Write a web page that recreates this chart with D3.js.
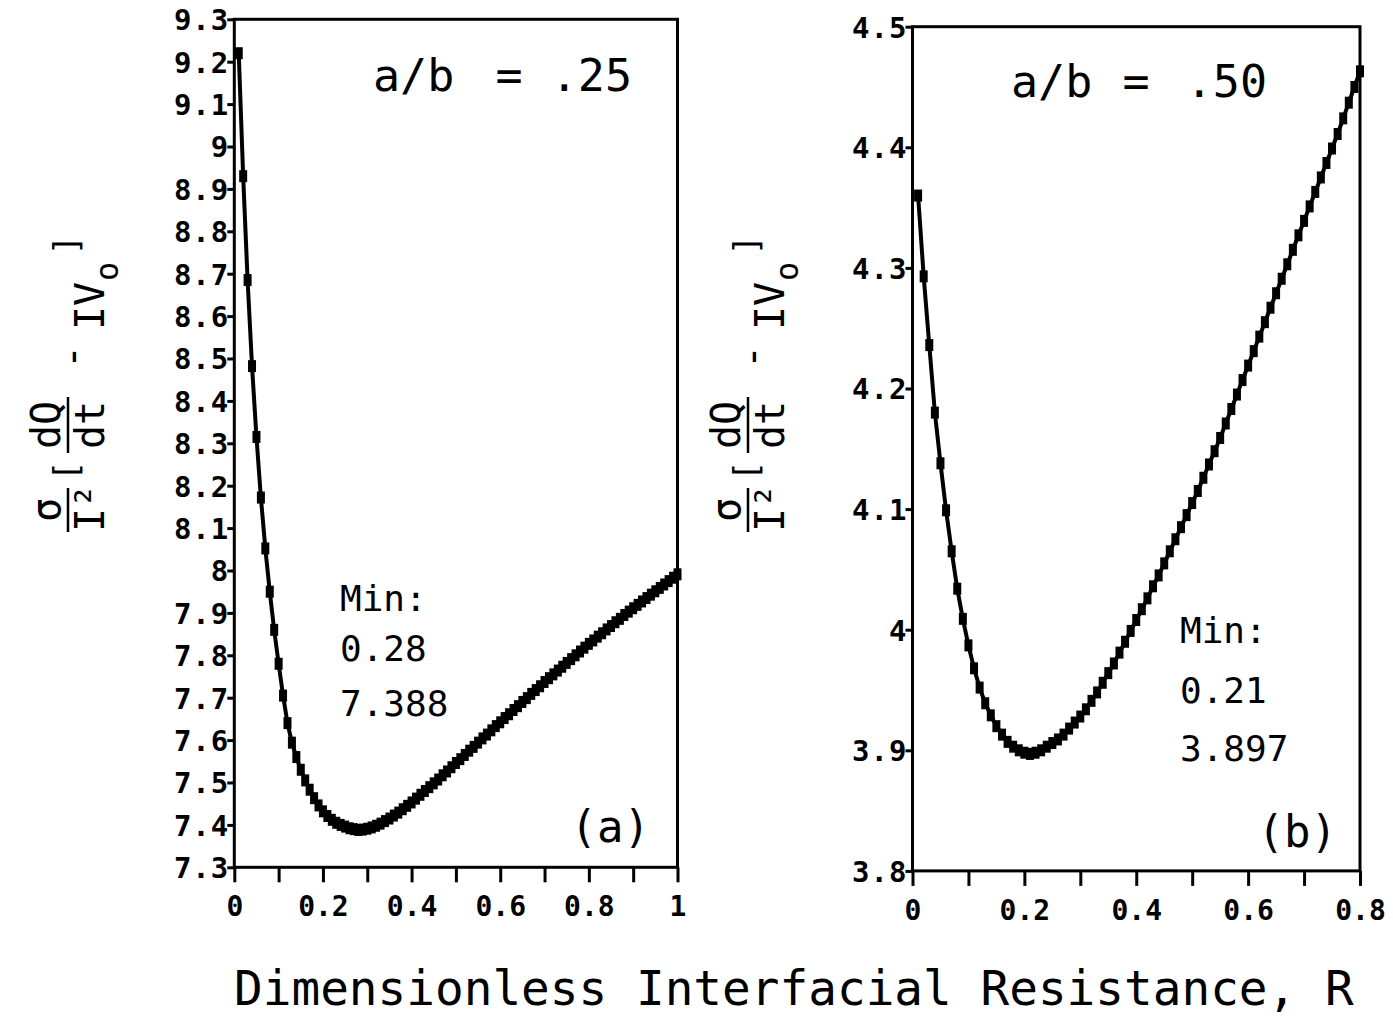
<!DOCTYPE html>
<html>
<head>
<meta charset="utf-8">
<script src="https://cdn.jsdelivr.net/npm/d3@7"></script>
<style>
  html, body { margin: 0; padding: 0; background: #fff; }
  svg { display: block; }
  text { font-family: "DejaVu Sans Mono", "Liberation Mono", monospace; fill: #000; }
</style>
</head>
<body>
<svg id="chart" width="1393" height="1019"></svg>
<script>
// ---------------- DATA ----------------
// Panel (a): a/b = .25, R from 0.01 to 1.00 step 0.01
const rA = d3.range(1, 101).map(i => i / 100);
const valuesA = [
  9.220, 8.930, 8.685, 8.482, 8.315, 8.172, 8.052, 7.950, 7.860, 7.780,
  7.705, 7.640, 7.594, 7.560, 7.530, 7.505, 7.483, 7.463, 7.446, 7.432,
  7.421, 7.412, 7.405, 7.400, 7.396, 7.392, 7.390, 7.388, 7.389, 7.391,
  7.394, 7.398, 7.403, 7.409, 7.415, 7.422, 7.429, 7.437, 7.445, 7.453,
  7.462, 7.471, 7.480, 7.489, 7.498, 7.507, 7.517, 7.526, 7.536, 7.546,
  7.555, 7.565, 7.575, 7.584, 7.594, 7.604, 7.613, 7.623, 7.633, 7.642,
  7.652, 7.661, 7.671, 7.680, 7.690, 7.699, 7.709, 7.718, 7.727, 7.737,
  7.746, 7.755, 7.764, 7.773, 7.782, 7.791, 7.800, 7.809, 7.818, 7.827,
  7.835, 7.844, 7.852, 7.861, 7.869, 7.878, 7.886, 7.895, 7.903, 7.911,
  7.919, 7.927, 7.935, 7.943, 7.951, 7.959, 7.967, 7.975, 7.983, 7.991
];
// Panel (b): a/b = .50, R from 0.01 to 0.80 step 0.01
const rB = d3.range(1, 81).map(i => i / 100);
const valuesB = [
  4.360, 4.293, 4.236, 4.180, 4.138, 4.099, 4.065, 4.034, 4.009, 3.987,
  3.968, 3.952, 3.939, 3.929, 3.920, 3.913, 3.907, 3.903, 3.900, 3.898,
  3.897, 3.898, 3.900, 3.903, 3.906, 3.909, 3.913, 3.918, 3.923, 3.928,
  3.934, 3.941, 3.948, 3.956, 3.964, 3.972, 3.981, 3.990, 3.999, 4.008,
  4.017, 4.026, 4.036, 4.045, 4.055, 4.065, 4.075, 4.085, 4.095, 4.105,
  4.115, 4.126, 4.137, 4.148, 4.159, 4.171, 4.183, 4.195, 4.207, 4.219,
  4.231, 4.243, 4.255, 4.267, 4.279, 4.291, 4.303, 4.315, 4.327, 4.339,
  4.351, 4.363, 4.375, 4.387, 4.399, 4.411, 4.424, 4.437, 4.450, 4.463
];
// Tick labels
const yTicksA = ["9.3","9.2","9.1","9","8.9","8.8","8.7","8.6","8.5","8.4","8.3","8.2","8.1","8","7.9","7.8","7.7","7.6","7.5","7.4","7.3"];
const yTicksB = ["4.5","4.4","4.3","4.2","4.1","4","3.9","3.8"];
const xTicksA = ["0","0.1","0.2","0.3","0.4","0.5","0.6","0.7","0.8","0.9","1"];
const xTicksB = ["0","0.1","0.2","0.3","0.4","0.5","0.6","0.7","0.8"];
const xLabelsA = ["0","0.2","0.4","0.6","0.8","1"];
const xLabelsB = ["0","0.2","0.4","0.6","0.8"];
// Annotations
const titleA = ["a/b", "=", ".25"];
const titleB = ["a/b", "=", ".50"];
const minA = ["Min:", "0.28", "7.388"];
const minB = ["Min:", "0.21", "3.897"];
const panelA = "(a)";
const panelB = "(b)";
const xTitle = "Dimensionless Interfacial Resistance, R";

// ---------------- DRAW ----------------
const svg = d3.select("#chart");
svg.append("rect").attr("width", 1393).attr("height", 1019).attr("fill", "#fff");

function panel(cfg) {
  const x = d3.scaleLinear().domain(cfg.xDomain).range([cfg.x0, cfg.x1]);
  const y = d3.scaleLinear().domain(cfg.yDomain).range([cfg.yBot, cfg.yTop]);
  const g = svg.append("g");

  // Y axis
  const yAxis = d3.axisLeft(y)
    .tickValues(cfg.yTicks.map(Number))
    .tickFormat((d, i) => cfg.yTicks[i])
    .tickSize(7).tickSizeOuter(0).tickPadding(3);
  const ya = g.append("g").attr("transform", `translate(${cfg.x0},0)`).call(yAxis);
  ya.select(".domain").remove();
  ya.selectAll(".tick line").attr("stroke", "#000").attr("stroke-width", 3);
  ya.selectAll(".tick text")
    .style("font-family", '"DejaVu Sans Mono", monospace')
    .style("font-weight", "bold").style("font-size", "29px")
    .style("letter-spacing", "1px")
    .attr("dy", "0.36em").attr("x", -5);

  // X axis
  const xAxis = d3.axisBottom(x)
    .tickValues(cfg.xTicks.map(Number))
    .tickFormat((d, i) => cfg.xLabels.includes(cfg.xTicks[i]) ? cfg.xTicks[i] : "")
    .tickSize(15).tickSizeOuter(0).tickPadding(14);
  const xa = g.append("g").attr("transform", `translate(0,${cfg.yBot})`).call(xAxis);
  xa.select(".domain").remove();
  xa.selectAll(".tick line").attr("stroke", "#000").attr("stroke-width", 3);
  xa.selectAll(".tick text")
    .style("font-family", '"DejaVu Sans Mono", monospace')
    .style("font-weight", "bold").style("font-size", "28px");

  // Frame
  g.append("rect")
    .attr("x", cfg.x0).attr("y", cfg.yTop)
    .attr("width", cfg.x1 - cfg.x0).attr("height", cfg.yBot - cfg.yTop)
    .attr("fill", "none").attr("stroke", "#000").attr("stroke-width", 3);

  // Curve
  const pts = cfg.r.map((r, i) => [r, cfg.v[i]]);
  g.append("path").datum(pts)
    .attr("fill", "none").attr("stroke", "#000").attr("stroke-width", 4)
    .attr("d", d3.line().x(d => x(d[0])).y(d => y(d[1])));
  g.selectAll("rect.mk").data(pts).join("rect").attr("class", "mk")
    .attr("x", d => x(d[0]) - 4).attr("y", d => y(d[1]) - 6)
    .attr("width", 8).attr("height", 12).attr("fill", "#000");

  // Title a/b = ...
  const t = g.append("g").style("font-size", "45px");
  t.append("text").attr("x", cfg.tx[0]).attr("y", cfg.ty).text(cfg.title[0]);
  t.append("text").attr("x", cfg.tx[1]).attr("y", cfg.ty).attr("text-anchor", "middle").text(cfg.title[1]);
  t.append("text").attr("x", cfg.tx[2]).attr("y", cfg.ty).attr("text-anchor", "end").text(cfg.title[2]);

  // Min annotation
  g.selectAll("text.mn").data(cfg.min).join("text").attr("class", "mn")
    .attr("x", cfg.mx).attr("y", (d, i) => cfg.my[i])
    .style("font-size", "36px").text(d => d);

  // Panel letter
  g.append("text").attr("x", cfg.px).attr("y", cfg.py).attr("text-anchor", "end")
    .style("font-size", "44px").text(cfg.letter);

  // Y label (rotated formula)
  yLabel(cfg.lx, cfg.ly);
}

function yLabel(cx, cy) {
  const g = svg.append("g").attr("transform", `translate(${cx},${cy}) rotate(-90)`);
  const fs = 40;
  const txt = (s, x, y, size, anchor) => g.append("text").attr("x", x).attr("y", y)
    .attr("text-anchor", anchor || "middle").style("font-size", size + "px").text(s);
  // sigma / I^2
  txt("σ", -125, -8, fs);
  g.append("line").attr("x1", -147).attr("x2", -103).attr("y1", 0).attr("y2", 0)
    .attr("stroke", "#000").attr("stroke-width", 2.5);
  txt("I²", -123, 36, fs);
  // [
  txt("[", -86, 10, 34);
  // dQ / dt
  txt("dQ", -40, -8, fs);
  g.append("line").attr("x1", -68).attr("x2", -12).attr("y1", 0).attr("y2", 0)
    .attr("stroke", "#000").attr("stroke-width", 2.5);
  txt("dt", -40, 36, fs);
  // - I V_o ]
  txt("-", 28, 18, fs);
  txt("IV", 55, 36, fs, "start");
  txt("o", 104, 50, 32, "start");
  txt("]", 140, 10, 34);
}

panel({
  x0: 234.3, x1: 677.5, yTop: 19.3, yBot: 867.3,
  xDomain: [0, 1], yDomain: [7.3, 9.3],
  yTicks: yTicksA, xTicks: xTicksA, xLabels: xLabelsA,
  r: rA, v: valuesA,
  title: titleA, tx: [373, 509, 632], ty: 91,
  min: minA, mx: 340, my: [611, 661, 716],
  letter: panelA, px: 650, py: 842,
  lx: 68, ly: 385
});

panel({
  x0: 912.5, x1: 1360, yTop: 26.7, yBot: 870.9,
  xDomain: [0, 0.8], yDomain: [3.8, 4.5],
  yTicks: yTicksB, xTicks: xTicksB, xLabels: xLabelsB,
  r: rB, v: valuesB,
  title: titleB, tx: [1011, 1136, 1267], ty: 97,
  min: minB, mx: 1180, my: [643, 703, 761],
  letter: panelB, px: 1337, py: 847,
  lx: 748, ly: 385
});

// X axis title
svg.append("text").attr("x", 234).attr("y", 1005)
  .style("font-size", "47.7px").text(xTitle);
</script>
</body>
</html>
